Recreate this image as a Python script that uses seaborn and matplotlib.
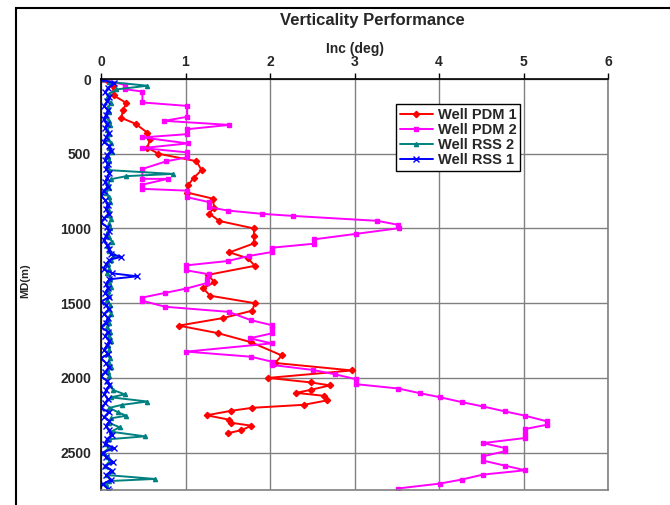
import matplotlib
matplotlib.use("Agg")
import matplotlib.pyplot as plt
import seaborn as sns
import pandas as pd
from matplotlib.patches import Rectangle

# Survey data: measured depth (m) and inclination (deg) per well
pdm1_md = [0, 50, 110, 160, 210, 260, 300, 360, 400, 460, 500, 550, 610, 660, 710,
           760, 800, 860, 900, 950, 1000, 1050, 1100, 1160, 1200, 1250, 1310, 1360,
           1400, 1450, 1500, 1550, 1600, 1650, 1700, 1760, 1850, 1900, 1950, 2000,
           2030, 2050, 2080, 2100, 2120, 2150, 2180, 2200, 2220, 2250, 2280, 2300,
           2320, 2350, 2370]
pdm1_inc = [0.0, 0.14, 0.15, 0.30, 0.26, 0.24, 0.41, 0.55, 0.58, 0.55, 0.68, 1.13,
            1.19, 1.10, 1.03, 1.02, 1.32, 1.34, 1.28, 1.40, 1.81, 1.81, 1.81, 1.52,
            1.74, 1.82, 1.27, 1.34, 1.21, 1.29, 1.82, 1.79, 1.44, 0.92, 1.38, 1.77,
            2.14, 2.06, 2.97, 1.98, 2.48, 2.71, 2.48, 2.31, 2.64, 2.68, 2.40, 1.79,
            1.54, 1.25, 1.52, 1.54, 1.78, 1.66, 1.50]

pdm2_md = [0, 40, 68, 84, 157, 180, 253, 280, 307, 336, 369, 391, 431, 462, 491, 524,
           551, 602, 668, 668, 707, 735, 747, 791, 824, 858, 880, 902, 916, 949, 976,
           998, 1036, 1073, 1102, 1129, 1158, 1184, 1218, 1247, 1280, 1307, 1336,
           1364, 1402, 1431, 1462, 1484, 1524, 1558, 1613, 1647, 1669, 1702, 1735,
           1769, 1824, 1858, 1891, 1913, 1947, 1976, 2009, 2042, 2071, 2102, 2129,
           2162, 2191, 2224, 2253, 2291, 2313, 2342, 2373, 2402, 2436, 2469, 2491,
           2524, 2553, 2587, 2618, 2647, 2680, 2707, 2740]
pdm2_inc = [0.0, 0.28, 0.28, 0.49, 0.49, 1.02, 1.02, 0.75, 1.52, 1.02, 1.02, 0.49,
            1.03, 0.49, 1.02, 1.02, 0.77, 0.49, 0.49, 0.79, 0.49, 0.49, 1.02, 1.02,
            1.28, 1.28, 1.50, 1.90, 2.27, 3.27, 3.52, 3.53, 3.02, 2.52, 2.52, 2.02,
            2.02, 1.75, 1.50, 1.01, 1.01, 1.28, 1.26, 1.26, 1.01, 0.76, 0.49, 0.49,
            0.76, 1.51, 1.77, 2.02, 2.02, 2.02, 1.76, 2.02, 1.01, 1.77, 2.02, 2.02,
            2.51, 2.77, 3.02, 3.02, 3.52, 3.77, 4.01, 4.27, 4.52, 4.78, 5.02, 5.28,
            5.28, 5.02, 5.02, 5.02, 4.52, 4.78, 4.78, 4.52, 4.52, 4.78, 5.02, 4.52,
            4.27, 4.01, 3.51]

rss2_md = [0, 20, 45, 70, 100, 130, 160, 190, 220, 250, 280, 310, 340, 370, 400, 430,
           460, 490, 520, 550, 580, 610, 635, 650, 670, 700, 730, 760, 790, 820, 850,
           880, 910, 940, 970, 1000, 1030, 1060, 1090, 1120, 1150, 1180, 1210, 1240,
           1270, 1300, 1330, 1360, 1390, 1420, 1450, 1480, 1510, 1540, 1570, 1600,
           1630, 1660, 1690, 1720, 1750, 1780, 1810, 1840, 1870, 1900, 1930, 1960,
           1990, 2020, 2050, 2080, 2110, 2130, 2158, 2180, 2200, 2230, 2253, 2270,
           2300, 2330, 2360, 2391, 2410, 2440, 2470, 2500, 2530, 2560, 2590, 2620,
           2650, 2676, 2690, 2710, 2740]
rss2_inc = [0.0, 0.10, 0.55, 0.18, 0.10, 0.07, 0.12, 0.08, 0.10, 0.06, 0.09, 0.11,
            0.07, 0.10, 0.08, 0.12, 0.09, 0.13, 0.08, 0.10, 0.07, 0.10, 0.85, 0.30,
            0.12, 0.08, 0.10, 0.06, 0.09, 0.11, 0.07, 0.10, 0.08, 0.12, 0.09, 0.11,
            0.07, 0.10, 0.13, 0.08, 0.10, 0.15, 0.12, 0.08, 0.10, 0.07, 0.11, 0.09,
            0.12, 0.08, 0.10, 0.07, 0.11, 0.09, 0.12, 0.08, 0.10, 0.07, 0.11, 0.09,
            0.12, 0.08, 0.10, 0.07, 0.11, 0.09, 0.12, 0.08, 0.10, 0.07, 0.11, 0.14,
            0.28, 0.12, 0.55, 0.25, 0.10, 0.20, 0.30, 0.12, 0.09, 0.22, 0.12, 0.52,
            0.10, 0.06, 0.09, 0.03, 0.08, 0.10, 0.05, 0.12, 0.07, 0.64, 0.10, 0.06,
            0.08]

rss1_md = [0, 30, 60, 90, 120, 150, 180, 210, 240, 270, 300, 330, 360, 390, 420, 450,
           480, 510, 540, 570, 600, 630, 660, 690, 720, 750, 780, 810, 840, 870, 900,
           930, 960, 990, 1020, 1050, 1080, 1110, 1140, 1170, 1190, 1210, 1240, 1270,
           1300, 1320, 1340, 1370, 1400, 1430, 1460, 1490, 1510, 1540, 1570, 1600,
           1630, 1660, 1690, 1720, 1750, 1780, 1810, 1840, 1870, 1900, 1930, 1960,
           1990, 2020, 2050, 2080, 2110, 2140, 2170, 2200, 2230, 2260, 2290, 2320,
           2350, 2380, 2410, 2440, 2470, 2500, 2530, 2560, 2590, 2620, 2650, 2680,
           2710, 2740, 2760]
rss1_inc = [0.0, 0.15, 0.08, 0.05, 0.10, 0.07, 0.04, 0.08, 0.06, 0.03, 0.07, 0.05,
            0.09, 0.06, 0.04, 0.10, 0.12, 0.07, 0.05, 0.08, 0.06, 0.10, 0.07, 0.05,
            0.08, 0.03, 0.0, 0.05, 0.08, 0.06, 0.09, 0.04, 0.0, 0.07, 0.10, 0.06,
            0.03, 0.07, 0.09, 0.12, 0.24, 0.10, 0.06, 0.03, 0.13, 0.43, 0.10, 0.06,
            0.08, 0.05, 0.09, 0.0, 0.06, 0.09, 0.04, 0.08, 0.06, 0.0, 0.08, 0.05,
            0.10, 0.07, 0.04, 0.08, 0.0, 0.06, 0.09, 0.05, 0.0, 0.07, 0.10, 0.06,
            0.04, 0.08, 0.05, 0.0, 0.09, 0.04, 0.10, 0.06, 0.09, 0.13, 0.07, 0.05,
            0.15, 0.02, 0.06, 0.14, 0.05, 0.13, 0.06, 0.12, 0.02, 0.08, 0.10]

x_ticks = [0, 1, 2, 3, 4, 5, 6]
y_ticks = [0, 500, 1000, 1500, 2000, 2500]

series = [
    ("Well PDM 1", pdm1_md, pdm1_inc, "#FF0000", "D", 3.2),
    ("Well PDM 2", pdm2_md, pdm2_inc, "#FF00FF", "s", 2.6),
    ("Well RSS 2", rss2_md, rss2_inc, "#008080", "^", 3.0),
    ("Well RSS 1", rss1_md, rss1_inc, "#0000FF", "x", 4.5),
]

sns.set_theme(style="white")
plt.rcParams["font.family"] = ["Liberation Sans", "DejaVu Sans"]
plt.rcParams["font.weight"] = "bold"

fig = plt.figure(figsize=(6.7, 5.05), dpi=100)
ax = fig.add_axes([101 / 670, 1 - 490 / 505, 507 / 670, 411 / 505])

for name, md, inc, color, mk, ms in series:
    df = pd.DataFrame({"inc": inc, "md": md})
    sns.lineplot(data=df, x="inc", y="md", sort=False, estimator=None, ax=ax,
                 color=color, marker=mk, markersize=ms, linewidth=1.4,
                 markeredgecolor=color, markeredgewidth=1.0, label=name)

ax.set_xlim(0, 6)
ax.set_ylim(2750, 0)
ax.set_xticks(x_ticks)
ax.set_yticks(y_ticks)
ax.xaxis.tick_top()
ax.xaxis.set_label_position("top")
ax.set_xlabel("Inc (deg)", fontsize=10, fontweight="bold", labelpad=2)
ax.set_ylabel("MD(m)", fontsize=8, fontweight="bold")
ax.yaxis.set_label_coords(-0.14, 0.51)
ax.tick_params(axis="both", labelsize=10, length=4, width=1, color="black",
               direction="out", pad=3)
for lab in ax.get_xticklabels() + ax.get_yticklabels():
    lab.set_fontweight("bold")

ax.grid(True, color="#808080", linewidth=1.0)
ax.set_axisbelow(True)
ax.spines["left"].set_color("black")
ax.spines["top"].set_color("black")
ax.spines["right"].set_color("#808080")
ax.spines["bottom"].set_color("#808080")
for s in ax.spines.values():
    s.set_linewidth(1.2)
    s.set_visible(True)

leg = ax.legend(loc="upper left", bbox_to_anchor=((396 - 101) / 507, 1 - (104 - 79) / 411),
                frameon=True, fancybox=False, edgecolor="black", framealpha=1,
                fontsize=10.5, handlelength=2.3, borderpad=0.25, labelspacing=0.08,
                handletextpad=0.3, borderaxespad=0)
leg.get_frame().set_linewidth(1.0)
for t in leg.get_texts():
    t.set_fontweight("bold")

fig.text(372 / 670, 1 - 21 / 505, "Verticality Performance", ha="center", va="center",
         fontsize=12, fontweight="bold")

# outer chart-area frame
fig.patches.append(Rectangle((16 / 670, -0.1), 1.2, 1.1 - 8 / 505,
                             transform=fig.transFigure, fill=False,
                             edgecolor="black", linewidth=1.5))

fig.savefig("out.png", dpi=100)
